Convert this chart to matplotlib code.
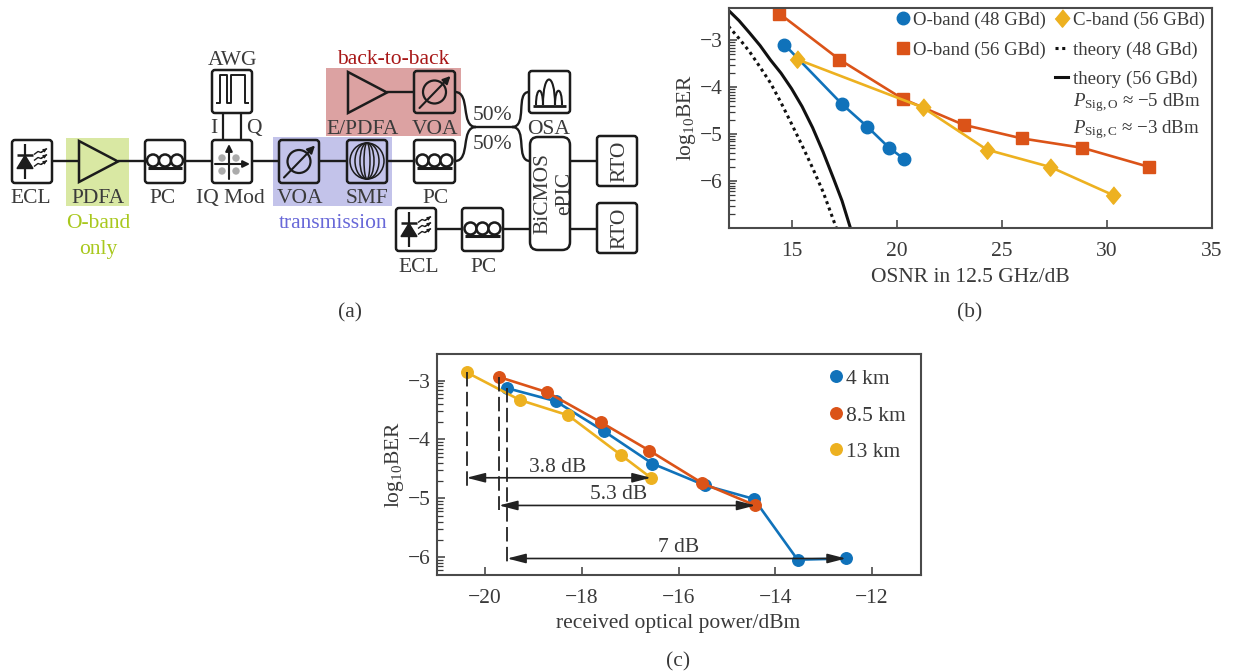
import numpy as np
import matplotlib
matplotlib.use("Agg")
import matplotlib.pyplot as plt
from matplotlib.patches import Rectangle, FancyBboxPatch, Circle, Ellipse, Polygon, PathPatch
from matplotlib.path import Path

# ---------- data, panel (b) ----------
o48_x = [14.66, 17.4, 18.6, 19.64, 20.36]
o48_y = [-3.09, -4.36, -4.84, -5.29, -5.53]
o56_x = [14.42, 17.28, 20.3, 23.18, 25.95, 28.83, 32.02]
o56_y = [-2.43, -3.41, -4.25, -4.80, -5.09, -5.29, -5.70]
c56_x = [15.24, 21.24, 24.29, 27.31, 30.3]
c56_y = [-3.40, -4.43, -5.33, -5.70, -6.30]
th56_x = [12.0, 12.5, 13.0, 13.5, 14.0, 14.5, 15.0, 15.5, 16.0, 16.5, 17.0, 17.4, 17.8]
th56_y = [-2.36, -2.58, -2.84, -3.11, -3.42, -3.70, -4.03, -4.41, -4.86, -5.38, -5.95, -6.42, -7.0]
th48_x = [12.0, 12.5, 13.0, 13.5, 14.0, 14.5, 15.0, 15.5, 16.0, 16.5, 17.13]
th48_y = [-2.70, -2.96, -3.24, -3.57, -3.91, -4.33, -4.78, -5.24, -5.72, -6.23, -7.0]
b_xticks = [15, 20, 25, 30, 35]
b_yticks = [-3, -4, -5, -6]

# ---------- data, panel (c) ----------
km4_x = [-19.54, -18.54, -17.54, -16.54, -15.45, -14.44, -13.54, -12.54]
km4_y = [-3.13, -3.35, -3.86, -4.41, -4.78, -5.01, -6.04, -6.02]
km85_x = [-19.71, -18.71, -17.6, -16.6, -15.51, -14.41]
km85_y = [-2.94, -3.20, -3.71, -4.19, -4.74, -5.12]
km13_x = [-20.38, -19.28, -18.28, -17.18, -16.57]
km13_y = [-2.86, -3.33, -3.59, -4.27, -4.65]
c_xticks = [-20, -18, -16, -14, -12]
c_yticks = [-3, -4, -5, -6]
span_start = [-20.38, -19.71, -19.54]
span_end = [-16.57, -14.41, -12.54]
span_level = [-4.65, -5.12, -6.02]
span_label = ["3.8 dB", "5.3 dB", "7 dB"]

BLUE, ORANGE, YELLOW = "#1072BA", "#DB5318", "#EDB120"
TXT, LINE = "#3a3a3a", "#1c1c1c"
FS = 15.5
LEG = 13.6
W, H = 1239, 671

plt.rcParams["font.family"] = ["Liberation Serif", "DejaVu Serif"]
plt.rcParams["mathtext.fontset"] = "custom"
plt.rcParams["mathtext.rm"] = "Liberation Serif"
plt.rcParams["mathtext.it"] = "Liberation Serif:italic"
plt.rcParams["axes.unicode_minus"] = True

fig = plt.figure(figsize=(W / 100, H / 100), dpi=100)
bg = fig.add_axes([0, 0, 1, 1])
bg.set_xlim(0, W)
bg.set_ylim(H, 0)
bg.axis("off")


def T(x, y, s, color=TXT, fs=FS, **kw):
    kw.setdefault("ha", "center")
    kw.setdefault("va", "center")
    if kw.get("rotation") == 90:
        x += 2.5
    else:
        y += 2.5
    bg.text(x, y, s, color=color, fontsize=fs, **kw)


def L(xs, ys, lw=1.7, color=LINE, **kw):
    bg.plot(xs, ys, color=color, lw=lw, solid_capstyle="butt", **kw)


def box(x0, x1, y0, y1, r=3):
    bg.add_patch(FancyBboxPatch((x0 + r, y0 + r), x1 - x0 - 2 * r, y1 - y0 - 2 * r,
                                boxstyle=f"round,pad={r},rounding_size={r}",
                                fc="none", ec=LINE, lw=1.8, zorder=3))


def arrow(x0, y0, x1, y1, lw=1.5, ms=8):
    bg.annotate("", xy=(x1, y1), xytext=(x0, y0),
                arrowprops=dict(arrowstyle="-|>", color=LINE, lw=lw, mutation_scale=ms,
                                shrinkA=0, shrinkB=0), zorder=4)


def pc(x0, x1, y0, y1):
    box(x0, x1, y0, y1)
    cx, cy = (x0 + x1) / 2, (y0 + y1) / 2 - 1
    for dx in (-12, 0, 12):
        bg.add_patch(Circle((cx + dx, cy), 6, fc="white", ec=LINE, lw=1.8, zorder=4))
    L([x0 + 3, x1 - 3], [cy + 7.5, cy + 7.5], lw=2.2, zorder=5)


def voa(x0, x1, y0, y1):
    box(x0, x1, y0, y1)
    cx, cy = (x0 + x1) / 2, (y0 + y1) / 2
    bg.add_patch(Circle((cx, cy), 11.5, fc="none", ec=LINE, lw=1.6, zorder=4))
    arrow(cx - 15, cy + 16, cx + 16, cy - 16, ms=11)


def ecl(x0, x1, y0, y1):
    box(x0, x1, y0, y1)
    cx, cy = x0 + 13, (y0 + y1) / 2
    L([cx, cx], [y0 + 4, y1 - 4], lw=1.6)
    L([cx - 8, cx + 8], [cy - 7, cy - 7], lw=1.8)
    bg.add_patch(Polygon([[cx - 8, cy + 7], [cx + 8, cy + 7], [cx, cy - 6]], fc=LINE, ec=LINE, zorder=4))
    for dy in (-9, -3, 3):
        xs = np.array([x0 + 22, x0 + 26, x0 + 29, x0 + 35])
        ys = cy + dy + np.array([2, -1, 0, -4])
        L(xs, ys, lw=1.0)
        arrow(xs[-2], ys[-2], xs[-1], ys[-1], lw=0.8, ms=5)


def tri(x0, x1, y0, y1):
    bg.add_patch(Polygon([[x0, y0], [x0, y1], [x1, (y0 + y1) / 2]], fc="none", ec=LINE, lw=1.8, zorder=3))


def curve(p0, p1, p2, p3, lw=1.7):
    bg.add_patch(PathPatch(Path([p0, p1, p2, p3], [Path.MOVETO, Path.CURVE4, Path.CURVE4, Path.CURVE4]),
                           fc="none", ec=LINE, lw=lw, zorder=2))


# colored zones
bg.add_patch(Rectangle((66, 138), 63, 68, fc="#D9E8A3", ec="none", zorder=0))
bg.add_patch(Rectangle((273, 137), 119, 69, fc="#C3C3EA", ec="none", zorder=0))
bg.add_patch(Rectangle((326, 68), 135, 68, fc="#DCA2A2", ec="none", zorder=0))

# wires
L([52, 79], [161, 161]); L([118, 145], [161, 161]); L([185, 212], [161, 161])
L([252, 279], [161, 161]); L([319, 347], [161, 161]); L([387, 414], [161, 161])
L([387, 414], [92, 92])
L([223, 223], [113, 140], lw=1.6); L([241, 241], [113, 140], lw=1.6)
L([474, 514], [127, 127])
curve((455, 92), (471, 92), (460, 127), (476, 127))
curve((455, 161), (471, 161), (460, 127), (476, 127))
curve((512, 127), (528, 127), (515, 92), (529, 92))
curve((512, 127), (528, 127), (515, 161), (530, 161))
L([570, 597], [161, 161]); L([570, 597], [229, 229])
L([436, 462], [229, 229]); L([503, 530], [229, 229])

# components
ecl(12, 52, 140, 183)
tri(79, 118, 141, 182)
pc(145, 185, 140, 183)
box(212, 252, 140, 183)
for dx, dy in ((-7, -6.5), (7, -6.5), (-7, 6.5), (7, 6.5)):
    bg.add_patch(Circle((229 + dx, 164.5 + dy), 3.7, fc="#ababab", ec="none", zorder=3))
arrow(215, 164, 250, 164, ms=10)
arrow(229, 179, 229, 144, ms=10)
box(212, 252, 70, 113)
L([216, 220, 220, 227, 227, 231, 231, 245, 245, 249],
  [103, 103, 75, 75, 103, 103, 75, 75, 103, 103], lw=1.4)
voa(279, 319, 140, 183)
box(347, 387, 140, 183)
for wd in (34, 24, 14, 6):
    bg.add_patch(Ellipse((367, 161), wd, 36, fc="none", ec=LINE, lw=1.1, zorder=4))
tri(348, 387, 72, 113)
voa(414, 455, 71, 113)
pc(414, 455, 140, 183)
box(529, 570, 71, 113)
L([533, 566], [106, 106], lw=2)
curve((543, 105), (543, 71), (555, 71), (555, 105), lw=1.5)
curve((536, 105), (536, 86), (543, 86), (543, 105), lw=1.5)
curve((555, 105), (555, 86), (562, 86), (562, 105), lw=1.5)
bg.add_patch(FancyBboxPatch((537, 144), 26, 99, boxstyle="round,pad=7,rounding_size=8",
                            fc="white", ec=LINE, lw=1.8, zorder=3))
box(597, 637, 136, 186)
box(597, 637, 203, 253)
ecl(396, 436, 208, 251)
pc(462, 503, 208, 251)

# diagram labels
T(233, 58, "AWG"); T(214, 126, "I"); T(254, 126, "Q")
for x, s in ((31, "ECL"), (98, "PDFA"), (163, "PC"), (230, "IQ Mod"), (300, "VOA"), (367, "SMF"), (436, "PC")):
    T(x, 196, s)
T(98, 221, "O-band", color="#A9C81E"); T(98, 247, "only", color="#A9C81E")
T(333, 221, "transmission", color="#6868D8")
T(393, 57, "back-to-back", color="#A81818")
T(363, 127, "E/PDFA"); T(435, 127, "VOA"); T(549, 127, "OSA")
T(493, 113, "50%"); T(493, 142, "50%")
T(540, 193, "BiCMOS", rotation=90, zorder=5); T(562, 193, "ePIC", rotation=90, zorder=5)
T(617, 161, "RTO", rotation=90); T(617, 228, "RTO", rotation=90)
T(419, 265, "ECL"); T(484, 265, "PC")
T(350, 310, "(a)"); T(970, 310, "(b)"); T(678, 659, "(c)")


def minus(v):
    return "\u2212" + str(abs(v)) if v < 0 else str(v)


def make_axes(x0, x1, y0, y1, xlim, ylim, xticks, yticks, xlabel, xpad, ypad):
    ax = fig.add_axes([x0 / W, 1 - y1 / H, (x1 - x0) / W, (y1 - y0) / H])
    ax.patch.set_alpha(0)
    ax.set_xlim(*xlim)
    ax.set_ylim(*ylim)
    ax.set_xticks(xticks, [minus(v) for v in xticks])
    ax.set_yticks(yticks, [minus(v) for v in yticks])
    minor = [-d - 1 + np.log10(k) for d in range(3, 8) for k in range(2, 10)]
    ax.set_yticks([m for m in minor if ylim[0] < m < ylim[1]], minor=True)
    ax.tick_params(which="major", direction="in", length=6, width=1.1, color="#3a3a3a",
                   labelsize=FS, labelcolor=TXT)
    ax.tick_params(axis="x", which="major", pad=10)
    ax.tick_params(axis="y", which="major", pad=4.4)
    ax.tick_params(which="minor", direction="in", length=4.3, width=0.9, color="#3a3a3a")
    for s in ax.spines.values():
        s.set_linewidth(1.5)
        s.set_color("#4a4a4a")
    ax.set_xlabel(xlabel, fontsize=FS, color=TXT, labelpad=xpad)
    ax.set_ylabel(r"log$_{10}$BER", fontsize=FS, color=TXT, labelpad=ypad)
    return ax


DIAMOND = [(0, 1.2), (1, 0), (0, -1.2), (-1, 0)]

# ---------- panel (b) ----------
axb = make_axes(728.5, 1212, 7.5, 228, (12, 35), (-7, -2.3), b_xticks, b_yticks,
                "OSNR in 12.5 GHz/dB", 5, 1)
axb.plot(th48_x, th48_y, color="#111111", lw=2.2, ls=(0, (1, 1.2)))
axb.plot(th56_x, th56_y, color="#111111", lw=2.2)
axb.plot(o48_x, o48_y, "-o", color=BLUE, lw=1.9, ms=9, clip_on=False)
axb.plot(o56_x, o56_y, "-s", color=ORANGE, lw=1.9, ms=8.2, clip_on=False)
axb.plot(c56_x, c56_y, ls="-", marker=DIAMOND, color=YELLOW, lw=1.9, ms=12.5, clip_on=False)

bg.plot([903], [18], "o", color=BLUE, ms=9)
bg.plot([903], [48], "s", color=ORANGE, ms=8.2)
bg.plot([1062], [18], ls="", marker=DIAMOND, color=YELLOW, ms=12.5)
bg.plot([1055, 1068], [48, 48], color="#111111", lw=2.2, ls=(0, (1, 1.2)))
bg.plot([1055, 1068], [77, 77], color="#111111", lw=2.2)
T(913, 18, "O-band (48 GBd)", ha="left", fs=LEG); T(913, 48, "O-band (56 GBd)", ha="left", fs=LEG)
T(1073, 18, "C-band (56 GBd)", ha="left", fs=LEG); T(1073, 48, "theory (48 GBd)", ha="left", fs=LEG)
T(1073, 77, "theory (56 GBd)", ha="left", fs=LEG)
T(1073, 100, r"$\mathit{P}_{\mathrm{Sig,O}}$ ≈ −5 dBm", ha="left", fs=LEG, family=["Liberation Serif", "DejaVu Sans"])
T(1073, 127, r"$\mathit{P}_{\mathrm{Sig,C}}$ ≈ −3 dBm", ha="left", fs=LEG, family=["Liberation Serif", "DejaVu Sans"])

# ---------- panel (c) ----------
axc = make_axes(436.5, 920.5, 354, 575, (-21, -11), (-6.3, -2.55), c_xticks, c_yticks,
                "received optical power/dBm", 4.5, 1)
axc.plot(km4_x, km4_y, "-o", color=BLUE, lw=1.9, ms=8.3)
axc.plot(km85_x, km85_y, "-o", color=ORANGE, lw=1.9, ms=8.3)
axc.plot(km13_x, km13_y, "-o", color=YELLOW, lw=1.9, ms=8.3)
dash_ends = [-4.8, -5.2, -6.15]
dash_tops = [km13_y[0], km85_y[0], km4_y[0]]
label_x = [-18.49, -17.24, -16.0]
label_y = [-4.48, -4.94, -5.84]
for x0, x1, yy, lab, yend, y0, lx, ly in zip(span_start, span_end, span_level, span_label,
                                            dash_ends, dash_tops, label_x, label_y):
    axc.plot([x0, x0], [y0, yend], color="#222222", lw=1.3, ls=(0, (8, 3)), zorder=5)
    axc.annotate("", xy=(x1, yy), xytext=(x0, yy),
                 arrowprops=dict(arrowstyle="<|-|>,head_length=0.7,head_width=0.18",
                                 color="#222222", lw=1.2, mutation_scale=16,
                                 shrinkA=0, shrinkB=0), zorder=6)
    axc.text(lx, ly, lab, fontsize=FS, color=TXT, ha="center", va="center", zorder=7)
for yy, col, lab in ((377, BLUE, "4 km"), (414, ORANGE, "8.5 km"), (450, YELLOW, "13 km")):
    bg.plot([836], [yy - 1], "o", color=col, ms=8.3)
    T(846, yy, lab, ha="left")

fig.savefig("out.png", dpi=100)
